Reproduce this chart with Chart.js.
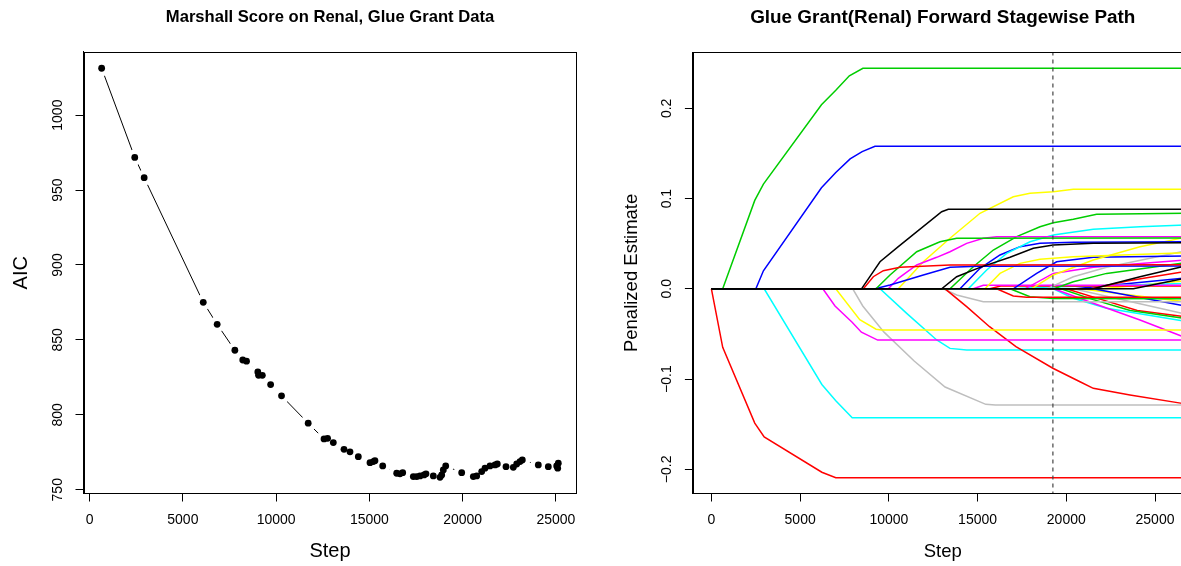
<!DOCTYPE html>
<html>
<head>
    <title>Marshall Score / Forward Stagewise Path</title>
    <script src="https://cdn.jsdelivr.net/npm/chart.js"></script>
    <style>
        body {
            margin: 0;
            padding: 0;
            background: #fff;
            overflow: hidden;
            width: 1181px;
            height: 566px;
            position: relative;
        }
        canvas {
            position: absolute;
            top: 0;
        }
        #aicChart { left: 0; }
        #pathChart { left: 600px; }
    </style>
</head>
<body>

<canvas id="aicChart" width="600" height="566"></canvas>
<canvas id="pathChart" width="620" height="566"></canvas>

<script>
// ---- left panel: AIC by step ----
const aicStep = [646, 2421, 2926, 6094, 6840, 7789, 8213, 8414, 9020, 9060, 9262, 9706, 10291, 11720,
    12570, 12760, 13067, 13641, 13962, 14408, 15035, 15214, 15300, 15716, 16466, 16643, 16788,
    17357, 17539, 17716, 17930, 18037, 18429, 18788, 18879, 18965, 19094, 19951, 20574, 20756,
    21024, 21201, 21469, 21738, 21861, 22327, 22719, 22901, 23078, 23202, 24059, 24595, 25045,
    25099, 25131];
const aicValue = [1031.3, 971.8, 958.3, 875.1, 860.4, 843.1, 836.6, 835.8, 828.6, 826.4, 826.4, 820.2,
    812.7, 794.4, 783.9, 784.3, 781.5, 777.0, 775.3, 772.1, 768.1, 768.8, 769.4, 765.9, 761.0,
    760.6, 761.4, 758.8, 758.8, 759.2, 759.9, 760.6, 759.2, 758.3, 759.9, 763.2, 765.9, 761.4,
    758.8, 759.2, 762.1, 764.4, 765.9, 766.6, 767.2, 765.4, 765.0, 767.2, 768.8, 769.9, 766.6,
    765.4, 765.9, 764.4, 767.7];
const aicXTicks = [0, 5000, 10000, 15000, 20000, 25000];
const aicYTicks = [750, 800, 850, 900, 950, 1000];
const aicYLabels = ['750', '800', '850', '900', '950', '1000'];

// ---- right panel: coefficient paths ----
const E = 26700; // last step of the path
const pathColors = ['red', 'green3', 'blue', 'cyan', 'magenta', 'yellow', 'gray', 'black',
    'red', 'green3', 'blue', 'magenta', 'yellow', 'black', 'green3', 'red', 'gray', 'cyan',
    'cyan', 'blue', 'yellow', 'yellow', 'blue', 'gray', 'magenta', 'green3', 'black', 'black',
    'red', 'red', 'green3', 'magenta', 'cyan', 'green3', 'red', 'gray', 'blue', 'yellow',
    'magenta', 'red', 'cyan', 'yellow', 'blue'];
const pathPoints = [
    [[0, 0], [637, -0.0648], [2443, -0.1488], [2974, -0.164], [6224, -0.2032], [7010, -0.2093], [E, -0.2093]],
    [[0, 0], [637, 0], [2443, 0.098], [2931, 0.116], [6202, 0.204], [7010, 0.22], [7774, 0.236], [8538, 0.2443], [E, 0.2443]],
    [[0, 0], [2506, 0], [2931, 0.02], [6202, 0.112], [7010, 0.1288], [7817, 0.144], [8496, 0.152], [9218, 0.158], [E, 0.158]],
    [[0, 0], [2974, 0], [6224, -0.106], [7010, -0.124], [7935, -0.143], [E, -0.143]],
    [[0, 0], [6280, 0], [6966, -0.019], [7930, -0.037], [8453, -0.048], [9370, -0.0568], [E, -0.0568]],
    [[0, 0], [7007, 0], [8360, -0.0343], [9280, -0.0448], [9600, -0.0457], [E, -0.0457]],
    [[0, 0], [7964, 0], [8530, -0.019], [9728, -0.048], [11427, -0.08], [13169, -0.1088], [15463, -0.128], [16000, -0.1288], [E, -0.1288]],
    [[0, 0], [8460, 0], [9501, 0.030], [10533, 0.0467], [12978, 0.0854], [13350, 0.0881], [E, 0.0881]],
    [[0, 0], [8565, 0], [9124, 0.0134], [9688, 0.0201], [10628, 0.0238], [13446, 0.0264], [E, 0.0266]],
    [[0, 0], [9276, 0], [10065, 0.0153], [11570, 0.0411], [12882, 0.0522], [13823, 0.056], [E, 0.0562]],
    [[0, 0], [9230, 0], [10065, 0.0042], [11943, 0.0153], [13446, 0.0238], [15000, 0.025], [E, 0.0252]],
    [[0, 0], [9970, 0], [10533, 0.0116], [11570, 0.0264], [12697, 0.0349], [13446, 0.0411], [14386, 0.0504], [15323, 0.056], [16076, 0.0578], [E, 0.0578]],
    [[0, 0], [10533, 0], [11943, 0.030], [13446, 0.056], [15137, 0.0837], [17013, 0.102], [17954, 0.1058], [19268, 0.1076], [20395, 0.1103], [E, 0.1103]],
    [[0, 0], [12978, 0], [13823, 0.0134], [15137, 0.0238], [16828, 0.0349], [18141, 0.0449], [19268, 0.0485], [21522, 0.0504], [E, 0.0511]],
    [[0, 0], [13446, 0], [14760, 0.0245], [15887, 0.043], [17205, 0.0578], [18518, 0.0688], [19268, 0.0733], [20395, 0.077], [21710, 0.0826], [E, 0.0837]],
    [[0, 0], [13169, 0], [14401, -0.02], [15675, -0.042], [17162, -0.064], [19243, -0.088], [20772, -0.103], [21522, -0.1103], [23589, -0.1177], [E, -0.1275]],
    [[0, 0], [13069, 0], [13823, -0.0069], [15323, -0.0143], [E, -0.0143]],
    [[0, 0], [9501, 0], [11006, -0.0272], [12697, -0.0567], [13446, -0.066], [14386, -0.0678], [E, -0.0678]],
    [[0, 0], [14477, 0], [15514, 0.0208], [16642, 0.0393], [17954, 0.0522], [19268, 0.0596], [21522, 0.0659], [24153, 0.0688], [E, 0.0708]],
    [[0, 0], [14010, 0], [15137, 0.0227], [16264, 0.0375], [17391, 0.0467], [18518, 0.0504], [20395, 0.0515], [E, 0.0522]],
    [[0, 0], [15419, 0], [16264, 0.0171], [17391, 0.0282], [18518, 0.0327], [20395, 0.0356], [E, 0.040]],
    [[0, 0], [18049, 0], [19268, 0.0153], [21522, 0.0319], [24153, 0.0467], [E, 0.057]],
    [[0, 0], [17013, 0], [18330, 0.0171], [19456, 0.030], [21522, 0.0349], [E, 0.0363]],
    [[0, 0], [18893, 0], [20395, 0.0134], [22275, 0.0238], [E, 0.042]],
    [[0, 0], [17673, 0], [19268, 0.0171], [21522, 0.0238], [E, 0.032]],
    [[0, 0], [19300, 0], [20395, 0.0079], [22275, 0.0171], [E, 0.029]],
    [[0, 0], [21522, 0], [24153, 0.0134], [E, 0.0253]],
    [[0, 0], [23776, 0], [E, 0.0116]],
    [[0, 0], [21400, 0], [23500, 0.009], [E, 0.0193]],
    [[0, 0], [16076, 0], [17013, -0.008], [17767, -0.0094], [E, -0.0094]],
    [[0, 0], [16828, 0], [17954, -0.0087], [19268, -0.0108], [E, -0.011]],
    [[0, 0], [19300, 0], [21522, -0.016], [24153, -0.0346], [E, -0.054]],
    [[0, 0], [19268, 0], [20395, -0.0105], [22275, -0.0216], [E, -0.036]],
    [[0, 0], [19700, 0], [21522, -0.012], [23600, -0.024], [E, -0.033]],
    [[0, 0], [20000, 0], [22000, -0.012], [24000, -0.024], [E, -0.031]],
    [[0, 0], [20395, 0], [23212, -0.0124], [E, -0.028]],
    [[0, 0], [21522, 0], [E, -0.019]],
    [[0, 0], [20771, 0], [E, -0.0143]],
    [[0, 0], [14760, 0], [15323, 0.004], [E, 0.004]],
    [[0, 0], [15700, 0], [16300, 0.003], [E, 0.003]],
    [[0, 0], [17000, 0], [19000, 0.002], [E, 0.006]],
    [[0, 0], [22000, 0], [E, 0.009]],
    [[0, 0], [20500, 0], [E, 0.012]]
];
const cutStep = 19245;
const pathXTicks = [0, 5000, 10000, 15000, 20000, 25000];
const pathYTicks = [-0.2, -0.1, 0, 0.1, 0.2];
const pathYLabels = ['\u22120.2', '\u22120.1', '0.0', '0.1', '0.2'];

const rPalette = {
    black: '#000000', red: '#FF0000', green3: '#00CD00', blue: '#0000FF',
    cyan: '#00FFFF', magenta: '#FF00FF', yellow: '#FFFF00', gray: '#BEBEBE'
};

const FONT = '"Liberation Sans", Arial, Helvetica, sans-serif';
Chart.defaults.font.family = FONT;
Chart.defaults.color = '#000';

// R style box + rotated y tick labels
const rFrame = {
    id: 'rFrame',
    afterDraw(chart, args, opts) {
        const { ctx, chartArea: a, scales } = chart;
        ctx.save();
        ctx.strokeStyle = '#000';
        ctx.lineWidth = 1;
        const l = Math.round(a.left) + 0.5, t = Math.round(a.top) + 0.5;
        const r = Math.round(a.right) - 0.5, b = Math.round(a.bottom) - 0.5;
        ctx.strokeRect(l, t, r - l, b - t);
        ctx.fillStyle = '#000';
        ctx.font = opts.fontSize + 'px ' + FONT;
        ctx.textAlign = 'center';
        ctx.textBaseline = 'middle';
        opts.ticks.forEach((v, i) => {
            ctx.save();
            ctx.translate(opts.labelX, scales.y.getPixelForValue(v));
            ctx.rotate(-Math.PI / 2);
            ctx.fillText(opts.labels[i], 0, 0);
            ctx.restore();
        });
        ctx.restore();
    }
};

function axisX(min, max, ticks, titleSize) {
    return {
        type: 'linear', min: min, max: max,
        afterBuildTicks: s => { s.ticks = ticks.map(v => ({ value: v })); },
        afterFit: s => { s.height = 72.5; },
        grid: { drawOnChartArea: false, drawTicks: true, tickLength: 8, tickColor: '#000', tickWidth: 1 },
        border: { display: true, color: '#000', width: 1 },
        ticks: { color: '#000', font: { size: 14 }, padding: 10, maxRotation: 0, autoSkip: false,
                 callback: v => String(v) },
        title: { display: true, text: 'Step', color: '#000', font: { size: titleSize }, padding: { top: 0, bottom: 3 } }
    };
}

function axisY(min, max, ticks, width, title, titleSize, titlePad) {
    return {
        type: 'linear', min: min, max: max,
        afterBuildTicks: s => { s.ticks = ticks.map(v => ({ value: v })); },
        afterFit: s => { s.width = width; },
        grid: { drawOnChartArea: false, drawTicks: true, tickLength: 8, tickColor: '#000', tickWidth: 1 },
        border: { display: true, color: '#000', width: 1 },
        ticks: { display: false },
        title: { display: true, text: title, color: '#000', font: { size: titleSize }, padding: { top: titlePad, bottom: 0 } }
    };
}

const aicPoints = aicStep.map((s, i) => ({ x: s, y: aicValue[i] }));

new Chart(document.getElementById('aicChart'), {
    type: 'scatter',
    data: {
        datasets: [
            { data: aicPoints, showLine: false, pointRadius: 3.4, pointBackgroundColor: '#000',
              pointBorderWidth: 0, order: 0 },
            // connecting line with gaps around the points (type "b")
            { data: aicPoints, showLine: true, borderColor: '#000', borderWidth: 1, pointRadius: 8,
              pointBackgroundColor: '#fff', pointBorderWidth: 0, order: 1 }
        ]
    },
    options: {
        responsive: false, animation: false, devicePixelRatio: 1, events: [],
        layout: { padding: { left: 0, right: 23.5, top: 0, bottom: 0 } },
        plugins: {
            legend: { display: false }, tooltip: { enabled: false },
            title: { display: true, fullSize: false, text: 'Marshall Score on Renal, Glue Grant Data',
                     color: '#000', font: { size: 16.6, weight: 'bold' }, padding: { top: 7, bottom: 25 } },
            rFrame: { ticks: aicYTicks, labels: aicYLabels, labelX: 58.3, fontSize: 14 }
        },
        scales: {
            x: axisX(-327, 26107, aicXTicks, 20),
            y: axisY(747.5, 1042.2, aicYTicks, 83.5, 'AIC', 20, 9)
        }
    },
    plugins: [rFrame]
});

const pathSets = pathPoints.map((p, i) => ({
    data: p.map(([x, y]) => ({ x: x, y: y })),
    showLine: true,
    borderColor: rPalette[pathColors[i]],
    borderWidth: 1.5,
    pointRadius: 0,
    order: pathColors[i] === 'black' ? 1 : 2
}));
pathSets.push({
    data: [{ x: cutStep, y: -0.3 }, { x: cutStep, y: 0.3 }],
    showLine: true, borderColor: '#444', borderWidth: 1.2, borderDash: [4, 4], pointRadius: 0, order: 0
});

new Chart(document.getElementById('pathChart'), {
    type: 'scatter',
    data: { datasets: pathSets },
    options: {
        responsive: false, animation: false, devicePixelRatio: 1, events: [],
        layout: { padding: { left: 0, right: 27.4, top: 0, bottom: 0 } },
        plugins: {
            legend: { display: false }, tooltip: { enabled: false },
            title: { display: true, fullSize: false, text: 'Glue Grant(Renal) Forward Stagewise Path',
                     color: '#000', font: { size: 18.9, weight: 'bold' }, padding: { top: 6, bottom: 23.6 } },
            rFrame: { ticks: pathYTicks, labels: pathYLabels, labelX: 67.3, fontSize: 14 }
        },
        scales: {
            x: axisX(-1043, 27118, pathXTicks, 18.5),
            y: axisY(-0.2268, 0.2621, pathYTicks, 92.9, 'Penalized Estimate', 18.5, 20.4)
        }
    },
    plugins: [rFrame]
});
</script>

</body>
</html>
